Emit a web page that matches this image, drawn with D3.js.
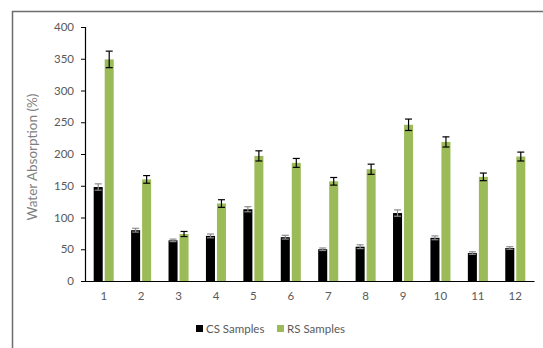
<!DOCTYPE html>
<html>
<head>
<meta charset="utf-8">
<script src="https://cdn.jsdelivr.net/npm/d3@7"></script>
<style>
  html, body { margin: 0; padding: 0; background: #fff; }
  svg { display: block; }
  text { font-family: Lato, "Open Sans", sans-serif; }
</style>
</head>
<body>
<svg id="chart" width="543" height="348"></svg>
<script>
// Sample numbers along the x axis
const categories = ["1", "2", "3", "4", "5", "6", "7", "8", "9", "10", "11", "12"];
// Series names
const seriesNames = ["CS Samples", "RS Samples"];
// Mean water absorption (%)
const csValues = [148, 80, 64, 71, 113, 69, 50, 54, 107, 68, 44, 52];
const rsValues = [349, 160, 74, 122, 197, 186, 157, 176, 246, 219, 164, 196];
// Standard deviations shown as error bars
const csErrors = [5, 3, 2, 3, 4, 3, 2, 3, 5, 3, 2, 2];
const rsErrors = [13, 6, 4, 6, 8, 7, 6, 8, 9, 8, 6, 7];
// Y axis ticks
const yTicks = [0, 50, 100, 150, 200, 250, 300, 350, 400];

const colors = { "CS Samples": "#000000", "RS Samples": "#9bbb59" };
const errColors = { "CS Samples": "#8c8c8c", "RS Samples": "#000000" };

const svg = d3.select("#chart");

// Outer chart frame
svg.append("path")
  .attr("d", "M12.5,350 L12.5,11.5 L545,11.5")
  .attr("fill", "none")
  .attr("stroke", "#6d6d6d")
  .attr("stroke-width", 1.5);

const plot = { left: 85, right: 534, top: 27, bottom: 281 };

const x = d3.scaleBand().domain(categories).range([plot.left, plot.right]).padding(0);
const xs = d3.scaleBand().domain(seriesNames).range([0, x.bandwidth()])
  .paddingInner(0.18).paddingOuter(0.79);
const y = d3.scaleLinear().domain([0, 400]).range([plot.bottom, plot.top]);

const rows = categories.map((c, i) => ({
  cat: c,
  items: [
    { s: "CS Samples", v: csValues[i], e: csErrors[i] },
    { s: "RS Samples", v: rsValues[i], e: rsErrors[i] }
  ]
}));

// Bars
const groups = svg.append("g").selectAll("g")
  .data(rows).join("g")
  .attr("transform", d => `translate(${x(d.cat)},0)`);

groups.selectAll("rect")
  .data(d => d.items).join("rect")
  .attr("x", d => xs(d.s))
  .attr("y", d => y(d.v))
  .attr("width", xs.bandwidth())
  .attr("height", d => y(0) - y(d.v))
  .attr("fill", d => colors[d.s]);

// Error bars
const capW = 7;
const eb = groups.selectAll("g.err")
  .data(d => d.items).join("g").attr("class", "err")
  .attr("stroke", d => errColors[d.s])
  .attr("stroke-width", 1.2);
eb.append("line")
  .attr("x1", d => xs(d.s) + xs.bandwidth() / 2)
  .attr("x2", d => xs(d.s) + xs.bandwidth() / 2)
  .attr("y1", d => y(d.v + d.e))
  .attr("y2", d => y(d.v - d.e));
eb.append("line")
  .attr("x1", d => xs(d.s) + xs.bandwidth() / 2 - capW / 2)
  .attr("x2", d => xs(d.s) + xs.bandwidth() / 2 + capW / 2)
  .attr("y1", d => y(d.v + d.e))
  .attr("y2", d => y(d.v + d.e));
eb.append("line")
  .attr("x1", d => xs(d.s) + xs.bandwidth() / 2 - capW / 2)
  .attr("x2", d => xs(d.s) + xs.bandwidth() / 2 + capW / 2)
  .attr("y1", d => y(d.v - d.e))
  .attr("y2", d => y(d.v - d.e));

// Y axis
const yAxis = svg.append("g")
  .attr("transform", `translate(${plot.left},0)`)
  .call(d3.axisLeft(y).tickValues(yTicks).tickSize(4).tickPadding(7));
yAxis.select(".domain").attr("stroke", "#000").attr("stroke-width", 1.2);
yAxis.selectAll(".tick line").attr("stroke", "#000");
yAxis.selectAll(".tick text")
  .attr("fill", "#595959")
  .style("font-size", "11.5px")
  .style("font-family", "Lato, sans-serif");

// X axis
const xAxis = svg.append("g")
  .attr("transform", `translate(0,${plot.bottom})`)
  .call(d3.axisBottom(x).tickSize(0).tickPadding(11));
xAxis.select(".domain").attr("stroke", "#000").attr("stroke-width", 1.2);
xAxis.selectAll(".tick text")
  .attr("fill", "#595959")
  .style("font-size", "11.5px")
  .style("font-family", "Lato, sans-serif");

// Y axis title
svg.append("text")
  .attr("transform", `translate(36.5,${(plot.top + plot.bottom) / 2 + 3}) rotate(-90)`)
  .attr("text-anchor", "middle")
  .attr("fill", "#7f7f7f")
  .style("font-size", "13.5px")
  .text("Water Absorption (%)");

// Legend
const legend = svg.append("g").attr("transform", "translate(196,329)");
const legendX = [0, 81];
seriesNames.forEach((s, i) => {
  const g = legend.append("g").attr("transform", `translate(${legendX[i]},0)`);
  g.append("rect").attr("x", 0).attr("y", -4).attr("width", 7).attr("height", 7)
    .attr("fill", colors[s]);
  g.append("text").attr("x", 10).attr("y", 4)
    .attr("fill", "#595959")
    .style("font-size", "11.5px")
    .text(s);
});
</script>
</body>
</html>
